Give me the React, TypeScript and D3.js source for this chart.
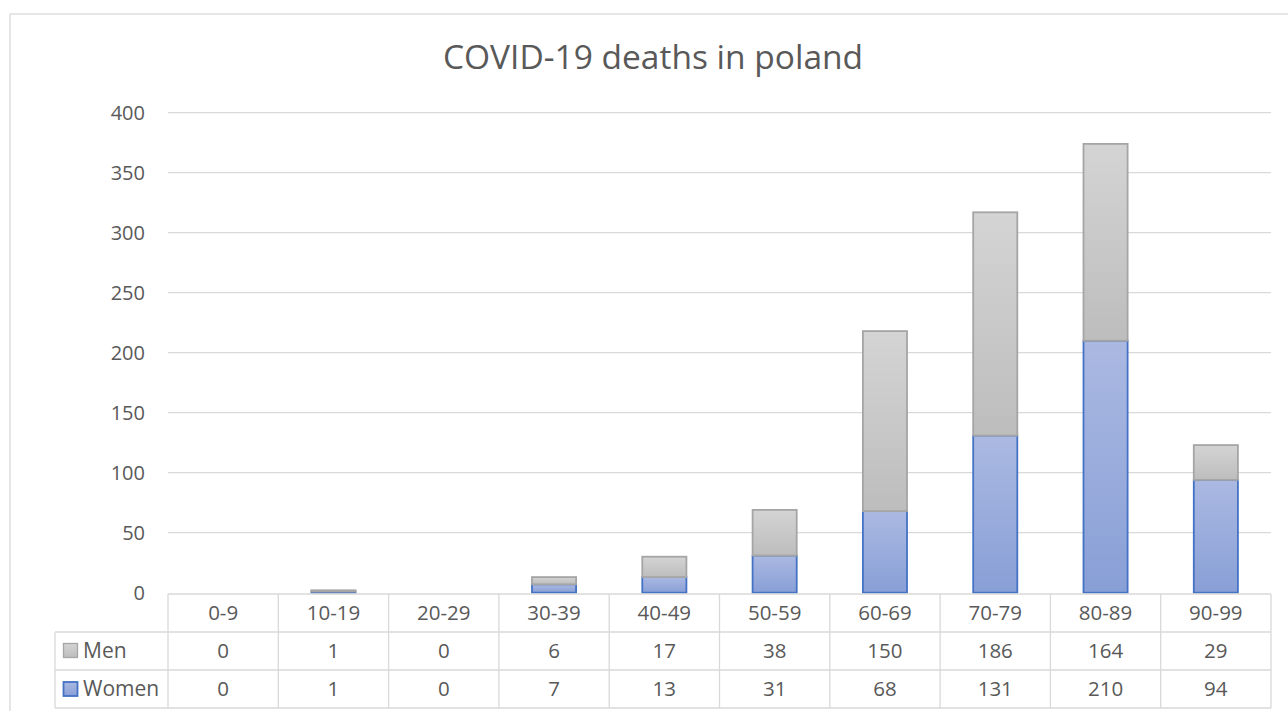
import React from "react";
import * as d3 from "d3";

const categories = ["0-9", "10-19", "20-29", "30-39", "40-49", "50-59", "60-69", "70-79", "80-89", "90-99"];
const men = [0, 1, 0, 6, 17, 38, 150, 186, 164, 29];
const women = [0, 1, 0, 7, 13, 31, 68, 131, 210, 94];
const yTicks = [0, 50, 100, 150, 200, 250, 300, 350, 400];
const title = "COVID-19 deaths in poland";

const W = 1288;
const H = 711;
const plotLeft = 168;
const plotRight = 1271;
const plotTop = 112.7;
const plotBottom = 592.7;
const FONT = "'Open Sans', 'Noto Sans', sans-serif";
const TEXT = "#595959";
const GRID = "#d9d9d9";

export default function App() {
  const x = d3.scaleBand<string>().domain(categories).range([plotLeft, plotRight]).paddingInner(0.6).paddingOuter(0.3);
  const y = d3.scaleLinear().domain([0, 400]).range([plotBottom, plotTop]);
  const step = x.step();
  const colEdges = categories.map((_, i) => plotLeft + i * step).concat([plotRight]);

  const rowTop = 594;
  const row1 = 632;
  const row2 = 670;
  const row3 = 708;
  const legendLeft = 55;

  return (
    <svg width={W} height={H} style={{ position: "absolute", left: 0, top: 0, background: "#fff" }}>
      <defs>
        <linearGradient id="gMen" x1="0" y1="0" x2="0" y2="1">
          <stop offset="0" stopColor="#d4d4d4" />
          <stop offset="1" stopColor="#bdbdbd" />
        </linearGradient>
        <linearGradient id="gWomen" x1="0" y1="0" x2="0" y2="1">
          <stop offset="0" stopColor="#abb9e2" />
          <stop offset="1" stopColor="#889fd6" />
        </linearGradient>
      </defs>
      <rect x={0} y={0} width={W} height={H} fill="#fff" />
      {/* outer chart border */}
      <rect x={10} y={14} width={W} height={H} fill="none" stroke={GRID} strokeWidth={1.3} />

      <text x={653} y={69} textAnchor="middle" fontFamily={FONT} fontSize={33.5} fill={TEXT}>
        {title}
      </text>

      {/* gridlines */}
      {yTicks.filter((t) => t > 0).map((t) => (
        <line key={t} x1={plotLeft} x2={plotRight} y1={y(t)} y2={y(t)} stroke={GRID} strokeWidth={1.3} />
      ))}
      {yTicks.map((t) => (
        <text key={"l" + t} x={145} y={y(t) + 7.5} textAnchor="end" fontFamily={FONT} fontSize={20} fill={TEXT}>
          {t}
        </text>
      ))}

      {/* bars */}
      {categories.map((c, i) => {
        const bx = x(c)!;
        const bw = x.bandwidth();
        const w = women[i];
        const m = men[i];
        return (
          <g key={c}>
            {w > 0 && (
              <rect x={bx} y={y(w)} width={bw} height={y(0) - y(w)} fill="url(#gWomen)" stroke="#4472c4" strokeWidth={1.8} />
            )}
            {m > 0 && (
              <rect x={bx} y={y(w + m)} width={bw} height={y(w) - y(w + m)} fill="url(#gMen)" stroke="#a5a5a5" strokeWidth={1.8} />
            )}
          </g>
        );
      })}

      {/* data table */}
      <g stroke={GRID} strokeWidth={1.3} fill="none">
        <line x1={plotLeft} x2={plotRight} y1={rowTop} y2={rowTop} />
        <line x1={legendLeft} x2={plotRight} y1={row1} y2={row1} />
        <line x1={legendLeft} x2={plotRight} y1={row2} y2={row2} />
        <line x1={legendLeft} x2={plotRight} y1={row3} y2={row3} />
        <line x1={legendLeft} x2={legendLeft} y1={row1} y2={row3} />
        {colEdges.map((cx, i) => (
          <line key={i} x1={cx} x2={cx} y1={rowTop} y2={row3} />
        ))}
      </g>
      {categories.map((c, i) => {
        const cx = x(c)! + x.bandwidth() / 2;
        return (
          <g key={"t" + c} fontFamily={FONT} fontSize={20.5} fill={TEXT} textAnchor="middle">
            <text x={cx} y={620}>{c}</text>
            <text x={cx} y={658}>{men[i]}</text>
            <text x={cx} y={696}>{women[i]}</text>
          </g>
        );
      })}
      {/* legend keys */}
      <rect x={63.5} y={643.5} width={14} height={14} fill="url(#gMen)" stroke="#a5a5a5" strokeWidth={1.3} />
      <text x={83} y={658} fontFamily={FONT} fontSize={21} fill={TEXT}>Men</text>
      <rect x={63.5} y={682} width={14} height={14} fill="url(#gWomen)" stroke="#4472c4" strokeWidth={1.8} />
      <text x={83} y={696} fontFamily={FONT} fontSize={21} fill={TEXT}>Women</text>
    </svg>
  );
}
